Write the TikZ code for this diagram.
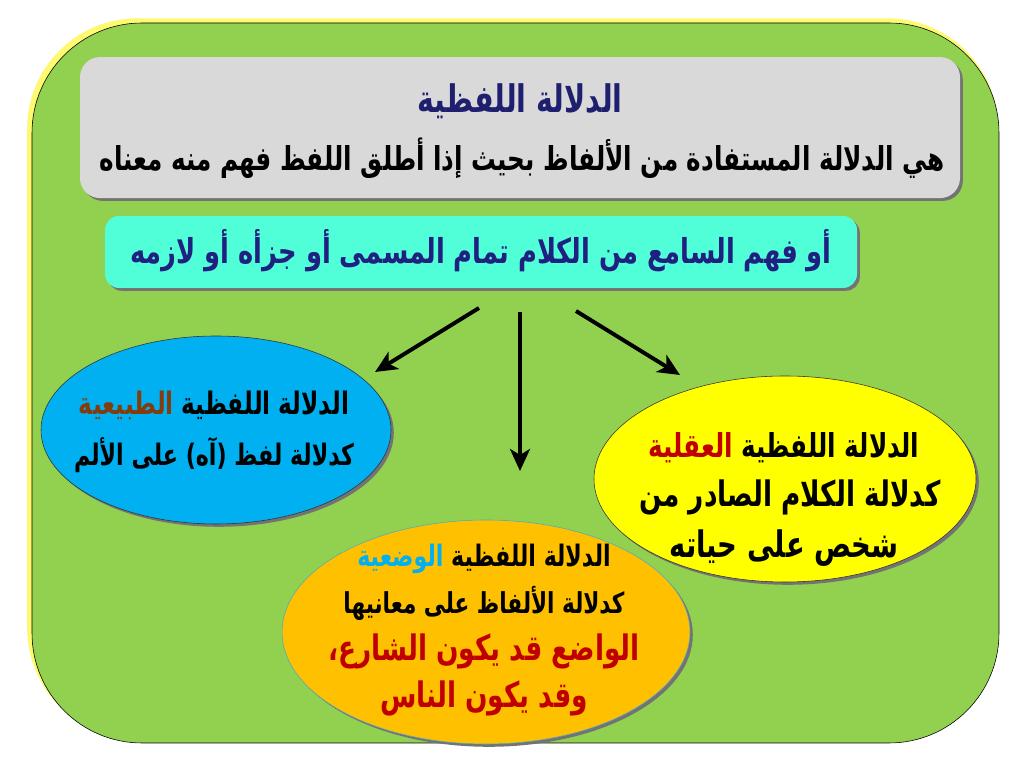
\documentclass[tikz,border=0pt]{standalone}
\usepackage{fontspec}
\usetikzlibrary{arrows.meta,shapes.geometric,shadows}
\TeXXeTstate=1
\newfontfamily\arabicfont[Script=Arabic, FakeStretch=0.75]{DejaVu Sans}

\definecolor{bggreen}{HTML}{92D050}
\definecolor{boxgray}{HTML}{D9D9D9}
\definecolor{boxaqua}{HTML}{50FFD8}
\definecolor{navytext}{HTML}{1F2080}
\definecolor{titlenavy}{HTML}{1F1F6F}
\definecolor{natblue}{HTML}{00B0F0}
\definecolor{mindyellow}{HTML}{FFFF00}
\definecolor{convorange}{HTML}{FFC000}
\definecolor{natbrown}{HTML}{843C0C}
\definecolor{darkred}{HTML}{C00000}
\definecolor{convline}{HTML}{4BACC6}

\newcommand{\arsize}[1]{\arabicfont\bfseries\fontsize{#1}{#1}\selectfont}
% coloured last word first, then the rest: the line is set in visual order
\newcommand{\kindline}[2]{\textcolor{#1}{#2} \beginR الدلالة اللفظية\endR}

\tikzset{
  dropshadow/.style={drop shadow={shadow xshift=0.07cm, shadow yshift=-0.07cm, fill=black!55, opacity=1}},
  ovalbox/.style={ellipse, draw=black!80, thin, dropshadow, inner sep=0pt},
  bigarrow/.style={-{Stealth[length=0.55cm, width=0.5cm, inset=0.15cm]}, line width=2.8pt},
  arline/.style={inner sep=0pt, font=\arsize{#1}},
  arline/.default=24
}

\begin{document}
\begin{tikzpicture}
  \useasboundingbox (0, 0) rectangle (25.6, 19.2);

  \fill[yellow!70, opacity=0.8, rounded corners=2.75cm] (0.68, 0.74) rectangle (24.95, 18.74);
  \filldraw[fill=bggreen, draw=black, thin, rounded corners=2.75cm] (0.8, 0.625) rectangle (24.975, 18.625);

  \node[fill=boxgray, rounded corners=0.5cm, dropshadow, minimum width=22cm, minimum height=3.525cm] (defbox) at (13.0, 16.01) {};
  \node[arline=27, text=titlenavy] (title) at (13.0, 16.675) {\beginR الدلالة اللفظية\endR};
  \node[arline=23.4] (deftext) at (13.05, 15.25) {\beginR هي الدلالة المستفادة من الألفاظ بحيث إذا أطلق اللفظ فهم منه معناه\endR};

  \node[fill=boxaqua, rounded corners=0.35cm, dropshadow, minimum width=18.8cm, minimum height=1.8cm] (orbox) at (12.025, 12.9) {};
  \node[arline=24.4, text=navytext] (ortext) at (12.025, 12.925) {\beginR أو فهم السامع من الكلام تمام المسمى أو جزأه أو لازمه\endR};

  \node[ovalbox, fill=natblue, minimum width=8.75cm, minimum height=4.7cm] (natural) at (5.4, 8.45) {};
  \node[arline=22] (naturalone) at (5.35, 9.075) {\kindline{natbrown}{الطبيعية}};
  \node[arline=21] (naturaltwo) at (5.35, 7.825) {\beginR كدلالة لفظ (آه) على الألم\endR};

  \node[ovalbox, fill=mindyellow, minimum width=9.55cm, minimum height=5.15cm] (mental) at (19.625, 7.225) {};
  \node[arline=23.4] (mentalone) at (19.6, 8.0) {\kindline{darkred}{العقلية}};
  \node[arline=25] (mentaltwo) at (19.75, 6.775) {\beginR كدلالة الكلام الصادر من\endR};
  \node[arline=26] (mentalthree) at (19.6, 5.5) {\beginR شخص على حياته\endR};

  \node[ovalbox, draw=convline, fill=convorange, minimum width=10.2cm, minimum height=5.6cm] (convention) at (12.15, 3.4) {};
  \node[arline=21] (conventionone) at (12.1, 5.225) {\kindline{natblue}{الوضعية}};
  \node[arline=20.5] (conventiontwo) at (12.1, 4.125) {\beginR كدلالة الألفاظ على معانيها\endR};
  \node[arline=25, text=darkred] (conventionthree) at (12.1, 2.925) {\beginR الواضع قد يكون الشارع،\endR};
  \node[arline=25, text=darkred] (conventionfour) at (12.1, 1.75) {\beginR وقد يكون الناس\endR};

  \coordinate (leftstart) at (11.975, 11.5);
  \coordinate (leftend) at (9.375, 9.9);
  \coordinate (downstart) at (13.0, 11.4);
  \coordinate (downend) at (13.0, 7.425);
  \coordinate (rightstart) at (14.4, 11.425);
  \coordinate (rightend) at (17.0, 9.825);

  \draw[bigarrow] (leftstart) -- (leftend);
  \draw[bigarrow] (downstart) -- (downend);
  \draw[bigarrow] (rightstart) -- (rightend);
\end{tikzpicture}
\end{document}
